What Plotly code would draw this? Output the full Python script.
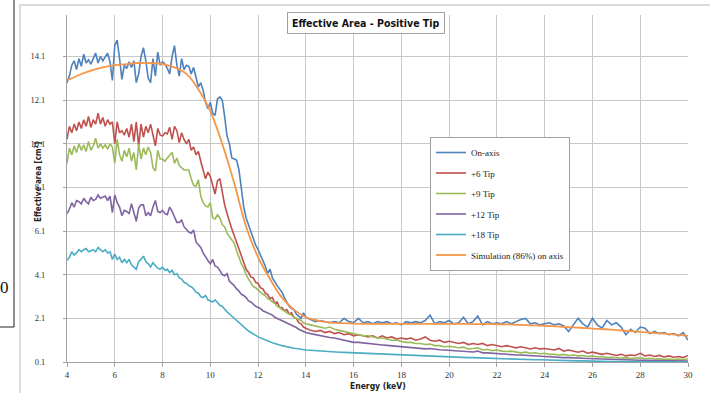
import plotly.graph_objects as go

# ---------------- data ----------------
energy = [round(4.0 + 0.1 * i, 1) for i in range(101)] + [round(14.2 + 0.2 * i, 1) for i in range(80)]
energy_sim = [4.0 + 0.5 * i for i in range(53)]

on_axis = [
    12.9, 13.2, 13.7, 13.9, 13.5, 14.0, 13.65, 14.2, 13.8, 13.95,
    13.75, 14.0, 14.25, 13.8, 14.1, 13.9, 14.05, 14.25, 13.85, 13.0,
    14.6, 14.85, 14.0, 13.05, 13.7, 13.55, 13.85, 13.6, 13.9, 12.9,
    13.3, 14.1, 14.5, 13.9, 13.1, 12.9, 14.0, 13.2, 14.3, 13.7,
    13.85, 13.75, 13.55, 13.3, 14.1, 14.6, 13.7, 13.2, 14.0, 13.5,
    13.7, 13.65, 13.3, 13.6, 13.15, 12.7, 12.9, 12.55, 12.0, 11.7,
    12.0, 11.5, 11.4, 12.15, 12.25, 12.1, 11.35, 10.45, 10.1, 9.45,
    9.4, 9.35, 8.9, 8.0, 7.2, 6.7, 6.4, 6.0, 5.7, 5.45,
    5.25, 5.0, 4.75, 4.5, 4.15, 4.35, 3.95, 3.75, 3.6, 3.45,
    3.3, 3.05, 2.85, 2.65, 2.55, 2.5, 2.3, 2.2, 2.1, 2.35,
    2.15,
    2.05, 1.95, 2.0, 1.95, 1.9, 1.95, 1.9, 2.1, 1.95, 1.9,
    2.1, 1.9, 1.95, 1.85, 1.95, 1.9, 1.95, 1.85, 1.9, 1.8,
    1.95, 1.9, 1.95, 1.9, 2.0, 2.25, 1.85, 1.95, 1.9, 2.0,
    1.85, 1.9, 2.15, 1.85, 1.95, 2.2, 1.8, 1.95, 1.85, 1.9,
    1.85, 1.95, 1.85, 1.95, 2.05, 2.1, 1.85, 1.9, 1.8, 1.85,
    1.9, 1.8, 1.85, 1.75, 1.5, 1.8, 2.1, 1.85, 1.7, 2.1,
    1.8, 1.65, 2.0, 1.8, 1.9, 1.7, 1.35, 1.6, 1.45, 1.7,
    1.65, 1.4, 1.5, 1.4, 1.45, 1.35, 1.4, 1.3, 1.45, 1.1,
]

tip_6 = [
    10.3, 10.9, 10.6, 11.0, 10.7, 11.1, 10.8, 11.2, 10.9, 11.35,
    10.85, 11.2, 11.0, 11.5, 11.0, 11.3, 10.9, 11.2, 11.0, 11.1,
    10.1, 11.1, 10.6, 10.7, 10.5, 10.8, 10.4, 11.0, 10.2, 11.1,
    10.0, 11.0, 10.4, 10.9, 10.6, 11.0, 10.5, 10.0, 10.8, 10.5,
    10.45, 10.6, 10.55, 10.85, 10.3, 10.9, 10.7, 10.15, 10.6, 10.3,
    10.1, 10.3, 9.8, 9.95, 9.6, 9.75, 9.3, 8.9, 8.5, 8.8,
    8.6, 8.2, 7.8, 8.4, 8.5, 7.9, 7.3, 6.9, 6.5, 6.2,
    5.9, 5.6, 5.25, 4.9, 4.6, 4.35, 4.2, 4.0, 3.95, 3.75,
    3.7, 3.5, 3.45, 3.25, 3.2, 3.0, 3.05, 2.8, 2.85, 2.6,
    2.6, 2.45, 2.5, 2.3, 2.35, 2.15, 2.1, 1.9, 1.85, 1.7,
    1.65,
    1.55, 1.5, 1.55, 1.45, 1.5, 1.4, 1.45, 1.35, 1.4, 1.3,
    1.35, 1.3, 1.25, 1.3, 1.2, 1.3, 1.2, 1.25, 1.15, 1.2,
    1.15, 1.2, 1.1, 1.15, 1.25, 1.1, 1.05, 1.1, 1.0, 1.05,
    1.0, 0.95, 1.0, 0.9, 0.95, 0.9, 0.95, 0.85, 0.9, 0.85,
    0.8, 0.85, 0.8, 0.75, 0.8, 0.75, 0.7, 0.75, 0.7, 0.72,
    0.7, 0.65, 0.72, 0.6, 0.65, 0.6, 0.55, 0.6, 0.5, 0.55,
    0.5, 0.45, 0.5, 0.45, 0.4, 0.45, 0.38, 0.42, 0.4, 0.5,
    0.38, 0.42, 0.35, 0.4, 0.33, 0.38, 0.32, 0.35, 0.3, 0.4,
]

tip_9 = [
    9.2, 9.9, 9.6, 10.0, 9.7, 10.1, 9.8, 10.05, 9.75, 10.2,
    9.8, 10.0, 10.35, 9.9, 10.1, 9.9, 10.05, 9.85, 10.1, 9.95,
    9.2, 10.3, 9.6, 9.3, 9.8, 9.5, 9.9, 9.3, 9.7, 8.9,
    10.1, 9.4, 9.9, 9.6, 9.95, 9.7, 9.0, 8.85, 9.8, 9.4,
    9.4, 9.3, 9.45, 9.6, 9.7, 9.2, 9.45, 9.1, 9.0, 8.9,
    8.9, 8.9, 8.5, 8.2, 8.15, 8.45, 7.7, 7.4, 7.25, 7.2,
    7.4, 6.7, 6.65, 6.85, 6.7, 6.4, 6.3, 6.0, 5.85, 5.7,
    5.55, 5.2, 4.9, 4.6, 4.4, 4.1, 3.9, 3.7, 3.55, 3.5,
    3.4, 3.3, 3.2, 3.15, 3.0, 2.95, 2.85, 2.8, 2.65, 2.6,
    2.5, 2.45, 2.35, 2.3, 2.25, 2.15, 2.1, 2.05, 2.0, 1.9,
    1.85,
    1.8, 1.75, 1.7, 1.65, 1.7, 1.6, 1.55, 1.5, 1.45, 1.4,
    1.35, 1.3, 1.3, 1.25, 1.2, 1.2, 1.15, 1.1, 1.1, 1.05,
    1.0, 1.0, 0.95, 0.95, 0.9, 0.92, 0.85, 0.85, 0.8, 0.82,
    0.78, 0.75, 0.78, 0.7, 0.72, 0.75, 0.65, 0.68, 0.62, 0.65,
    0.6, 0.58, 0.6, 0.55, 0.52, 0.55, 0.5, 0.52, 0.48, 0.5,
    0.45, 0.45, 0.42, 0.45, 0.4, 0.42, 0.38, 0.4, 0.35, 0.38,
    0.33, 0.35, 0.3, 0.32, 0.3, 0.28, 0.3, 0.26, 0.28, 0.3,
    0.25, 0.27, 0.24, 0.25, 0.22, 0.24, 0.21, 0.23, 0.2, 0.25,
]

tip_12 = [
    6.9, 7.1, 7.4, 7.2, 7.5, 7.45, 7.35, 7.6, 7.45, 7.35,
    7.65, 7.5, 7.55, 7.75, 7.6, 7.65, 7.7, 7.5, 7.7, 6.95,
    7.75, 7.4, 7.2, 6.8, 7.05, 7.0, 6.9, 7.35, 7.0, 6.55,
    7.15, 7.3, 7.3, 6.8, 6.95, 6.8, 7.2, 7.5, 7.0, 6.95,
    7.05, 6.9, 6.85, 7.2, 7.0, 6.7, 6.5, 6.5, 6.6, 6.3,
    6.15, 6.05, 6.0, 6.15, 5.6, 5.45, 5.35, 5.1, 4.9, 4.75,
    4.6, 4.8, 4.5, 4.45, 4.3, 4.1, 4.05, 4.15, 3.8, 3.7,
    3.6, 3.45, 3.35, 3.2, 3.15, 3.05, 2.9, 2.85, 2.75, 2.65,
    2.6, 2.55, 2.45, 2.4, 2.35, 2.3, 2.25, 2.15, 2.1, 2.05,
    2.0, 1.95, 1.9, 1.85, 1.8, 1.72, 1.68, 1.6, 1.55, 1.5,
    1.45,
    1.4, 1.35, 1.3, 1.28, 1.22, 1.2, 1.15, 1.1, 1.05, 1.0,
    1.0, 0.97, 0.95, 0.92, 0.9, 0.88, 0.86, 0.84, 0.82, 0.8,
    0.78, 0.76, 0.75, 0.72, 0.7, 0.72, 0.68, 0.66, 0.65, 0.64,
    0.62, 0.6, 0.6, 0.57, 0.56, 0.6, 0.52, 0.52, 0.5, 0.5,
    0.47, 0.46, 0.45, 0.42, 0.42, 0.4, 0.4, 0.37, 0.36, 0.35,
    0.34, 0.32, 0.32, 0.3, 0.3, 0.28, 0.28, 0.27, 0.26, 0.25,
    0.24, 0.24, 0.22, 0.22, 0.21, 0.2, 0.2, 0.19, 0.19, 0.18,
    0.18, 0.17, 0.17, 0.16, 0.16, 0.15, 0.16, 0.15, 0.15, 0.14,
]

tip_18 = [
    4.75, 4.9, 5.15, 5.0, 5.1, 5.25, 5.15, 5.25, 5.3, 5.15,
    5.2, 5.25, 5.15, 5.35, 5.25, 5.15, 5.25, 5.1, 5.15, 4.8,
    5.05, 4.8, 4.9, 4.65, 4.8, 4.65, 4.8, 4.55, 4.45, 4.35,
    4.7, 4.8, 4.95, 4.7, 4.6, 4.45, 4.65, 4.5, 4.4, 4.35,
    4.45, 4.3, 4.35, 4.2, 4.3, 4.1, 4.15, 3.95, 3.9, 3.75,
    3.7, 3.6, 3.55, 3.45, 3.3, 3.25, 3.1, 3.05, 3.15, 2.95,
    2.9, 2.85, 2.95, 2.8, 2.7, 2.65, 2.5, 2.4, 2.3, 2.2,
    2.1, 2.0, 1.9, 1.8, 1.7, 1.6, 1.52, 1.45, 1.4, 1.32,
    1.25, 1.2, 1.15, 1.1, 1.05, 1.0, 0.98, 0.95, 0.9, 0.88,
    0.85, 0.82, 0.8, 0.78, 0.75, 0.73, 0.72, 0.7, 0.68, 0.67,
    0.65,
    0.64, 0.62, 0.6, 0.6, 0.58, 0.57, 0.55, 0.54, 0.53, 0.52,
    0.5, 0.5, 0.49, 0.48, 0.47, 0.46, 0.45, 0.45, 0.43, 0.42,
    0.42, 0.4, 0.4, 0.38, 0.38, 0.37, 0.36, 0.35, 0.35, 0.34,
    0.33, 0.32, 0.31, 0.3, 0.3, 0.29, 0.28, 0.27, 0.27, 0.26,
    0.25, 0.24, 0.24, 0.23, 0.22, 0.22, 0.21, 0.2, 0.2, 0.19,
    0.19, 0.18, 0.17, 0.17, 0.16, 0.16, 0.15, 0.15, 0.14, 0.14,
    0.13, 0.13, 0.13, 0.12, 0.12, 0.12, 0.11, 0.11, 0.11, 0.1,
    0.1, 0.1, 0.1, 0.1, 0.1, 0.1, 0.1, 0.1, 0.1, 0.1,
]

simulation = [
    13.0, 13.25, 13.45, 13.6, 13.7, 13.75, 13.8, 13.8, 13.75, 13.6,
    13.3, 12.6, 11.6, 10.1, 8.3, 6.3, 4.9, 3.9, 3.05, 2.5,
    2.15, 2.0, 1.92, 1.88, 1.86, 1.85, 1.85, 1.85, 1.85, 1.85,
    1.85, 1.85, 1.85, 1.85, 1.84, 1.84, 1.83, 1.82, 1.8, 1.78,
    1.76, 1.73, 1.7, 1.67, 1.63, 1.6, 1.56, 1.52, 1.48, 1.44,
    1.4, 1.35, 1.3,
]

series_names = ["On-axis", "+6 Tip", "+9 Tip", "+12 Tip", "+18 Tip", "Simulation (86%) on axis"]
y_ticks = [0.1, 2.1, 4.1, 6.1, 8.1, 10.1, 12.1, 14.1]
x_ticks = [4, 6, 8, 10, 12, 14, 16, 18, 20, 22, 24, 26, 28, 30]

colors = ["#4F81BD", "#C0504D", "#9BBB59", "#8064A2", "#4BACC6", "#F79646"]

# ---------------- figure ----------------
fig = go.Figure()
measured = [on_axis, tip_6, tip_9, tip_12, tip_18]
for i, (name, vals, col) in enumerate(zip(series_names[:5], measured, colors[:5])):
    fig.add_trace(go.Scatter(x=energy, y=vals, mode="lines", name=name, legendgroup=f"g{i}",
                             line=dict(color=col, width=1.6)))
fig.add_trace(go.Scatter(x=energy_sim, y=simulation, mode="lines", name=series_names[5],
                         legendgroup="g5",
                         line=dict(color=colors[5], width=1.8, shape="spline")))

W, H = 710, 393
L, R, T, B = 67, 688, 15, 362


def px(x):
    return (x - L) / (R - L)


def py(y):
    return (B - y) / (B - T)


narrow = "Liberation Sans Narrow, Arial Narrow, DejaVu Sans Condensed, sans-serif"
serif = "Liberation Serif, Times New Roman, serif"

fig.update_layout(
    width=W, height=H,
    margin=dict(l=L, r=W - R, t=T, b=H - B),
    paper_bgcolor="white", plot_bgcolor="white",
    showlegend=True,
    legend=dict(x=px(430), y=py(137), xanchor="left", yanchor="top",
                bordercolor="#a0a0a0", borderwidth=1, bgcolor="white",
                font=dict(family=serif, size=9, color="#222"),
                tracegroupgap=1.5, itemwidth=30),
    xaxis=dict(range=[4, 30], tickvals=x_ticks, ticktext=[str(v) for v in x_ticks],
               showgrid=True, gridcolor="#c8c8c8", gridwidth=1,
               showline=True, linecolor="#a0a0a0", linewidth=1,
               ticks="outside", ticklen=4, tickcolor="#a0a0a0",
               tickfont=dict(family=serif, size=9, color="#333"), zeroline=False),
    yaxis=dict(range=[0.1, 16.0], tickvals=y_ticks, ticktext=[f"{v:.1f}" for v in y_ticks],
               showgrid=True, gridcolor="#c8c8c8", gridwidth=1,
               showline=True, linecolor="#a0a0a0", linewidth=1,
               ticks="outside", ticklen=3, tickcolor="#a0a0a0", ticklabelstandoff=16,
               tickfont=dict(family=serif, size=8.5, color="#333"), zeroline=False),
)

# chart title box
fig.add_annotation(x=px(365.5), y=py(22.5), xref="paper", yref="paper",
                   xanchor="center", yanchor="middle",
                   text="<b>Effective Area - Positive Tip</b>", showarrow=False,
                   font=dict(family=narrow, size=10.5, color="#111"),
                   bordercolor="#a0a0a0", borderwidth=1, borderpad=4, bgcolor="white")
# axis titles
fig.add_annotation(x=px(378), y=py(386), xref="paper", yref="paper",
                   xanchor="center", yanchor="middle",
                   text="<b>Energy (keV)</b>", showarrow=False,
                   font=dict(family=narrow, size=8.5, color="#222"))
fig.add_annotation(x=px(38), y=py(182), xref="paper", yref="paper",
                   xanchor="center", yanchor="middle",
                   text="<b>Effective area [cm<sup>2</sup>]</b>", showarrow=False, textangle=-90,
                   font=dict(family=narrow, size=8, color="#222"))
# stray "0" label at far left
fig.add_annotation(x=px(4.5), y=py(287), xref="paper", yref="paper",
                   xanchor="center", yanchor="middle",
                   text="0", showarrow=False,
                   font=dict(family=serif, size=17, color="#111"))

# outer chart frame and left box lines
fig.add_shape(type="rect", xref="paper", yref="paper",
              x0=px(20), y0=py(400), x1=px(720), y1=py(5),
              line=dict(color="#d0d0d0", width=1.5), layer="below")
fig.add_shape(type="line", xref="paper", yref="paper",
              x0=px(14), y0=py(-2), x1=px(14), y1=py(327),
              line=dict(color="#222", width=1))
fig.add_shape(type="line", xref="paper", yref="paper",
              x0=px(-2), y0=py(327), x1=px(14), y1=py(327),
              line=dict(color="#222", width=1))

fig.write_html("out.html", config={"displayModeBar": False},
               post_script="document.body.style.margin='0';document.body.style.overflow='hidden';")
